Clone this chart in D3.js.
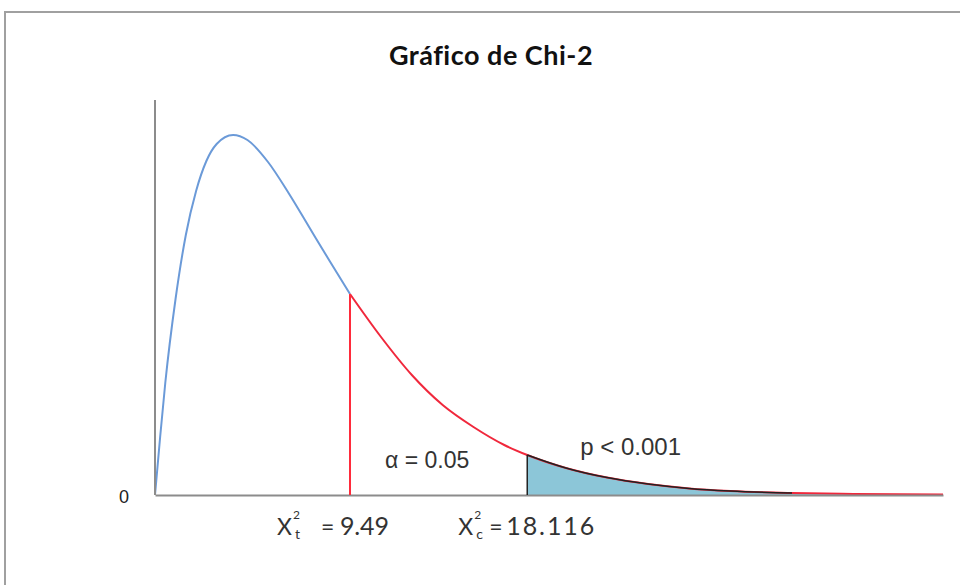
<!DOCTYPE html>
<html>
<head>
<meta charset="utf-8">
<script src="https://cdn.jsdelivr.net/npm/d3@7"></script>
<style>
html,body{margin:0;padding:0;background:#fff;}
svg{display:block;}
</style>
</head>
<body>
<svg id="chart" width="960" height="585"></svg>
<script>
// ---- data (chi-square value vs. relative density) ----
const chiValues = [0, 0.25, 0.5, 1, 1.5, 2, 2.5, 3, 3.8, 4.5, 5.5, 6.5, 7.5, 8.5, 9.49,
                   11, 12.5, 14, 15.5, 17, 18.116, 20, 22, 24, 26, 28, 31, 34, 38.35];
const density   = [0, 0.029, 0.056, 0.098, 0.130, 0.152, 0.167, 0.1755, 0.180, 0.1775, 0.1665, 0.151, 0.134, 0.117, 0.1005,
                   0.079, 0.060, 0.045, 0.034, 0.025, 0.020, 0.0135, 0.0087, 0.0055, 0.0033, 0.002, 0.001, 0.0005, 0.0002];
const chiTable = 9.49;     // critical value
const chiCalc = 18.116;    // computed value
const titleText = "Gráfico de Chi-2";
const alphaText = "α = 0.05";
const pText = "p < 0.001";
const yTickLabels = ["0"];

const points = chiValues.map((c, i) => ({x: c, y: density[i]}));

const svg = d3.select("#chart");

// frame
svg.append("rect").attr("x", 5).attr("y", 12).attr("width", 1200).attr("height", 1200)
  .attr("fill", "#fff").attr("stroke", "#a0a0a0").attr("stroke-width", 2);

const x = d3.scaleLinear().domain([0, 38.35]).range([155, 943]);
const y = d3.scaleLinear().domain([0, 0.19]).range([495, 115]);

// title
svg.append("text").attr("x", 491).attr("y", 65).attr("text-anchor", "middle")
  .attr("font-family", "Lato, 'Open Sans', sans-serif").attr("font-weight", "bold")
  .attr("font-size", 27).attr("letter-spacing", 0.5).attr("fill", "#111").text(titleText);

function interpY(v) {
  for (let i = 1; i < points.length; i++) {
    if (points[i].x >= v) {
      const a = points[i-1], b = points[i];
      return a.y + (b.y - a.y) * (v - a.x) / (b.x - a.x);
    }
  }
  return 0;
}

const line = d3.line().x(d => x(d.x)).y(d => y(d.y)).curve(d3.curveMonotoneX);
const area = d3.area().x(d => x(d.x)).y0(y(0)).y1(d => y(d.y)).curve(d3.curveMonotoneX);

// shaded p region
const shaded = points.filter(d => d.x >= chiCalc);
svg.append("path").datum(shaded).attr("d", area)
  .attr("fill", "#8cc6d8").attr("stroke", "none");

// curve segments
const bluePts = points.filter(d => d.x <= chiTable);
const redPts = points.filter(d => d.x >= chiTable);
svg.append("path").datum(bluePts).attr("d", line)
  .attr("fill", "none").attr("stroke", "#6b9ad8").attr("stroke-width", 2);
svg.append("path").datum(redPts).attr("d", line)
  .attr("fill", "none").attr("stroke", "#f0283c").attr("stroke-width", 2);
// dark outline on the shaded region top
svg.append("path").datum(shaded.filter(d => d.x <= 31)).attr("d", line)
  .attr("fill", "none").attr("stroke", "#222").attr("stroke-width", 1.5);

// axes
const xAxis = d3.axisBottom(x).tickValues([]).tickSizeOuter(0);
svg.append("g").attr("transform", `translate(0,${y(0)})`).call(xAxis)
  .select(".domain").attr("stroke", "#8c8c8c").attr("stroke-width", 2);
const yAxis = d3.axisLeft(y).tickValues([]).tickSizeOuter(0);
svg.append("g").attr("transform", `translate(${x(0)},0)`).call(yAxis)
  .select(".domain").attr("stroke", "#8c8c8c").attr("stroke-width", 2)
  .attr("d", `M0,${y(0)}V${y(0.1975)}`);

svg.append("text").attr("x", 124).attr("y", y(0) + 8).attr("text-anchor", "middle")
  .attr("font-family", "'Liberation Sans', Arial, sans-serif").attr("font-size", 18)
  .attr("fill", "#222").text(yTickLabels[0]);

// vertical lines
svg.append("line").attr("x1", x(chiTable)).attr("x2", x(chiTable))
  .attr("y1", y(0)).attr("y2", y(interpY(chiTable)))
  .attr("stroke", "#ff2b3b").attr("stroke-width", 2);
svg.append("line").attr("x1", x(chiCalc)).attr("x2", x(chiCalc))
  .attr("y1", y(0)).attr("y2", y(interpY(chiCalc)))
  .attr("stroke", "#222").attr("stroke-width", 1.5);

// annotations
const lblFont = "'Liberation Sans', Arial, sans-serif";
svg.append("text").attr("x", x(chiTable) + 35).attr("y", 468)
  .attr("font-family", lblFont).attr("font-size", 23).attr("fill", "#333").text(alphaText);
svg.append("text").attr("x", x(chiCalc) + 53).attr("y", 455)
  .attr("font-family", lblFont).attr("font-size", 24).attr("fill", "#333").text(pText);

const xFont = "Lato, 'Open Sans', sans-serif";
function chiLabel(x0, sub, eqX, valX, val, valLen) {
  const g = svg.append("g").attr("font-family", xFont).attr("fill", "#333");
  g.append("text").attr("x", x0).attr("y", 535).attr("font-size", 23).text("X");
  g.append("text").attr("x", x0 + 16).attr("y", 519).attr("font-size", 12).text("2");
  g.append("text").attr("x", x0 + 18).attr("y", 539).attr("font-size", 14).text(sub);
  g.append("text").attr("x", eqX).attr("y", 535).attr("font-size", 23).text("=");
  g.append("text").attr("x", valX).attr("y", 535).attr("font-size", 25)
    .attr("textLength", valLen).attr("lengthAdjust", "spacing").text(val);
}
chiLabel(x(chiTable) - 73, "t", x(chiTable) - 29, x(chiTable) - 10, "9.49", 49);
chiLabel(x(chiCalc) - 69, "c", x(chiCalc) - 38, x(chiCalc) - 21, "18.116", 88);
</script>
</body>
</html>
